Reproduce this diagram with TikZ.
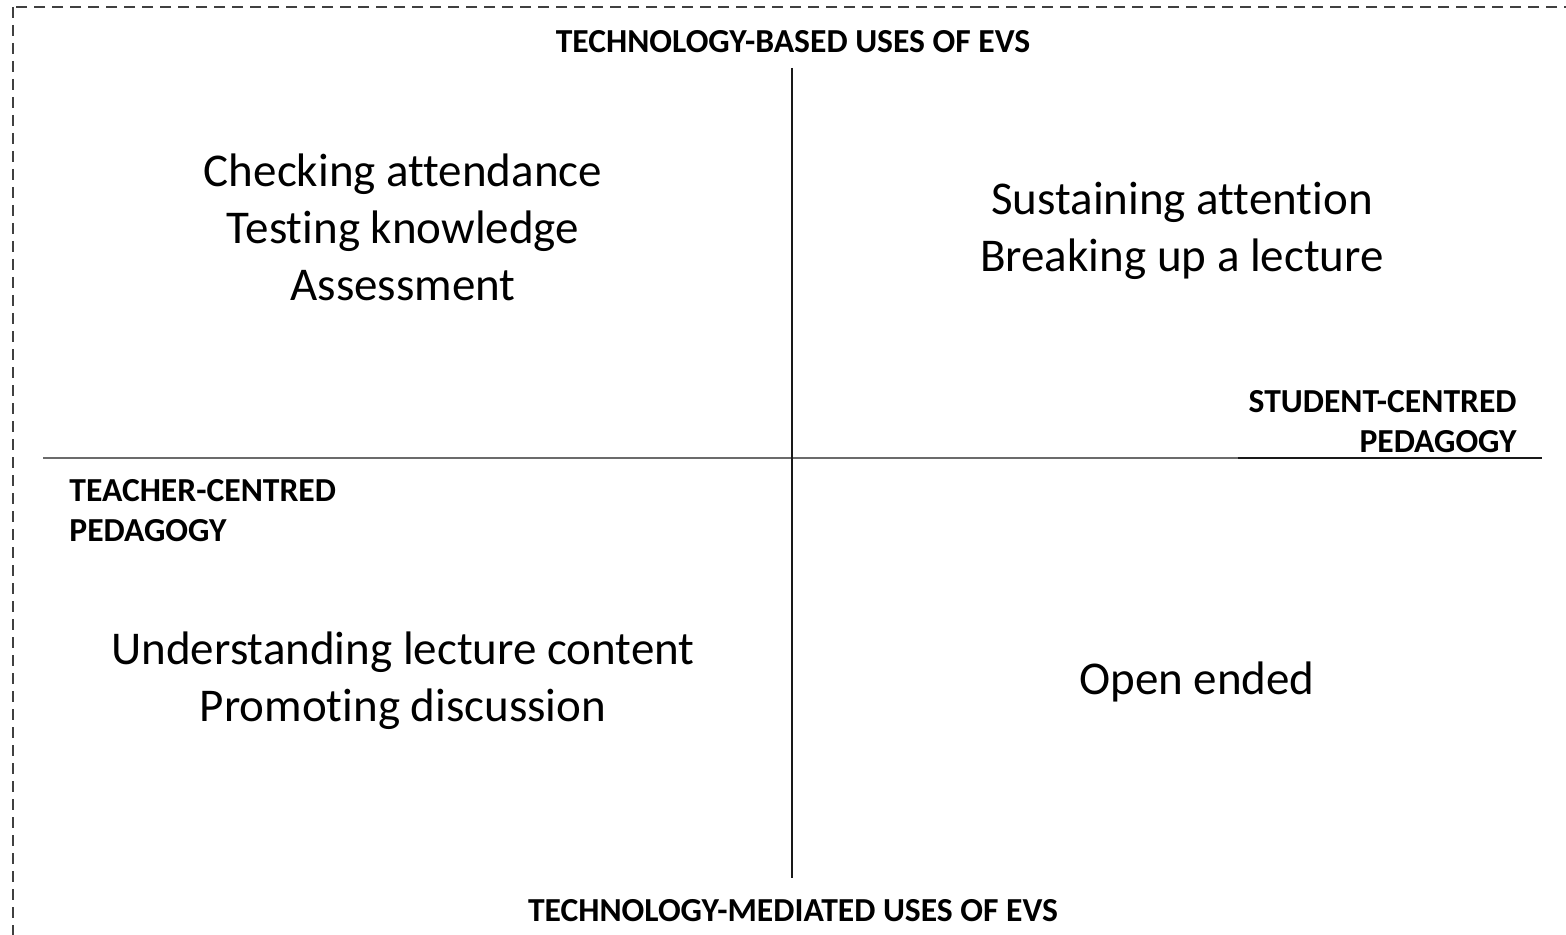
\documentclass[tikz,border=0pt]{standalone}
\usepackage{fontspec}
\setmainfont{Carlito}[Ligatures=NoCommon]
\begin{document}
\begin{tikzpicture}[x=0.5pt,y=-0.5pt,
  axislabel/.style={font=\bfseries\fontsize{16.8pt}{20pt}\selectfont, inner sep=0pt},
  usetext/.style={font=\fontsize{23.5pt}{28.5pt}\selectfont, align=center, inner sep=0pt},
  frame/.style={draw=black!75, line width=1pt, dash pattern=on 5.5pt off 3.5pt},
  hline/.style={draw=black!58, line width=1.4pt},
  vline/.style={draw=black!90, line width=1pt}]
  \useasboundingbox (0,0) rectangle (1566,935);
  % outer dashed frame (runs past the right and bottom edges)
  \begin{scope}
    \clip (0,0) rectangle (1566,935);
    \draw[frame] (13,7) rectangle (1620,990);
  \end{scope}

  % axes
  \coordinate (vtop) at (792,68);
  \coordinate (vbot) at (792,878);
  \coordinate (hleft) at (43,458);
  \coordinate (hmid) at (1238,458);
  \coordinate (hright) at (1542,458);
  \draw[hline] (hleft) -- (hmid);
  \draw[vline] (hmid) -- (hright);
  \draw[vline] (vtop) -- (vbot);

  % axis labels
  \node[axislabel] (top) at (793,42) {TECHNOLOGY-BASED USES OF EVS};
  \node[axislabel] (bottom) at (793,911) {TECHNOLOGY-MEDIATED USES OF EVS};
  \node[axislabel, align=right, anchor=east] (student) at (1517,422) {STUDENT-CENTRED\\PEDAGOGY};
  \node[axislabel, align=left, anchor=west] (teacher) at (69,511) {TEACHER-CENTRED\\PEDAGOGY};

  % quadrant contents
  \node[usetext] (q1) at (403,227) {Checking attendance\\Testing knowledge\\Assessment};
  \node[usetext] (q2) at (1182,231) {Sustaining attention\\Breaking up a lecture};
  \node[usetext] (q3) at (403,681) {Understanding lecture content\\Promoting discussion};
  \node[usetext] (q4) at (1197,682) {Open ended};
\end{tikzpicture}
\end{document}
